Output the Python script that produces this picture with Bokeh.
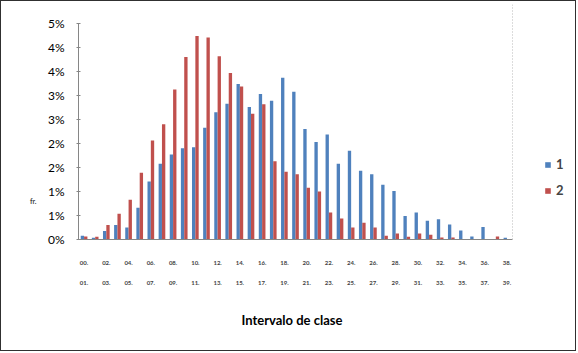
from bokeh.plotting import figure
from bokeh.models import (ColumnDataSource, Range1d, FixedTicker, LinearAxis, Legend,
                          LegendItem, Span, Title)
from bokeh.transform import dodge
from bokeh.embed import file_html
from bokeh.resources import INLINE

# ---- data (values in %) ----
serie_1 = [0.08, 0.035, 0.175, 0.30, 0.25, 0.66, 1.21, 1.58, 1.77, 1.90,
           1.92, 2.33, 2.65, 2.83, 3.24, 2.76, 3.03, 2.89, 3.37, 3.08,
           2.30, 2.03, 2.19, 1.58, 1.85, 1.43, 1.36, 1.14, 1.01, 0.49,
           0.56, 0.39, 0.42, 0.31, 0.19, 0.06, 0.26, 0.0, 0.035]
serie_2 = [0.06, 0.056, 0.30, 0.535, 0.83, 1.39, 2.06, 2.40, 3.125, 3.80,
           4.24, 4.21, 3.82, 3.47, 3.19, 2.62, 2.82, 1.63, 1.41, 1.36,
           1.08, 1.00, 0.56, 0.44, 0.25, 0.35, 0.25, 0.08, 0.125, 0.056,
           0.125, 0.10, 0.04, 0.04, 0.0, 0.0, 0.0, 0.06, 0.0]
idx = list(range(len(serie_1)))

# x tick labels (every other class, two lines each)
x_label_ticks = [0, 2, 4, 6, 8, 10, 12, 14, 16, 18, 20, 22, 24, 26, 28, 30, 32, 34, 36, 38]
x_labels_row1 = ["00.", "02.", "04.", "06.", "08.", "10.", "12.", "14.", "16.", "18.",
                 "20.", "22.", "24.", "26.", "28.", "30.", "32.", "34.", "36.", "38."]
x_labels_row2 = ["01.", "03.", "05.", "07.", "09.", "11.", "13.", "15.", "17.", "19.",
                 "21.", "23.", "25.", "27.", "29.", "31.", "33.", "35.", "37.", "39."]
x_title = "Intervalo de clase"

y_ticks = [0, 0.5, 1.0, 1.5, 2.0, 2.5, 3.0, 3.5, 4.0, 4.5]
y_tick_labels = ["0%", "1%", "1%", "2%", "2%", "3%", "3%", "4%", "4%", "5%"]
y_title = "fr."
y_title_pos = 0.81

series_names = ["1", "2"]
BLUE = "#4F81BD"
RED = "#C0504D"
FONT = "Lato"

src = ColumnDataSource(dict(idx=idx, s1=serie_1, s2=serie_2))

# frame extends to the right edge; plot area ends at class 38.5 (dotted line)
p = figure(width=576, height=351, output_backend="svg", toolbar_location=None,
           x_range=Range1d(-0.5, 44.34), y_range=Range1d(0, 4.896),
           min_border_left=77, min_border_right=0, min_border_top=3,
           min_border_bottom=113, title=None)
p.styles = {"border": "1px solid #303030"}
p.background_fill_color = "white"
p.border_fill_color = "white"
p.outline_line_color = None
p.xgrid.visible = False
p.ygrid.visible = False

r1 = p.vbar(x=dodge("idx", -0.15, range=p.x_range), top="s1", width=0.3, source=src,
            fill_color=BLUE, line_color=None)
r2 = p.vbar(x=dodge("idx", 0.15, range=p.x_range), top="s2", width=0.3, source=src,
            fill_color=RED, line_color=None)

# y axis
ya = p.yaxis[0]
ya.ticker = FixedTicker(ticks=y_ticks)
ya.major_label_overrides = {t: l for t, l in zip(y_ticks, y_tick_labels)}
ya.bounds = (0, 4.5)
ya.axis_line_color = "#868686"
ya.major_tick_line_color = "#868686"
ya.major_tick_out = 2
ya.major_tick_in = 2
ya.minor_tick_line_color = None
ya.major_label_text_font = FONT
ya.major_label_text_font_size = "12px"
ya.major_label_text_color = "black"
ya.major_label_standoff = 12

# small y title drawn as a second left axis label
yb = LinearAxis(ticker=FixedTicker(ticks=[y_title_pos]))
yb.major_label_overrides = {y_title_pos: y_title}
yb.axis_line_color = None
yb.major_tick_line_color = None
yb.minor_tick_line_color = None
yb.major_label_text_font = FONT
yb.major_label_text_font_size = "7px"
yb.major_label_text_font_style = "bold"
yb.major_label_standoff = 2
p.add_layout(yb, "left")

# x axis row 1
xa = p.xaxis[0]
xa.ticker = FixedTicker(ticks=x_label_ticks)
xa.bounds = (-0.5, 38.5)
xa.major_label_overrides = {t: l for t, l in zip(x_label_ticks, x_labels_row1)}
xa.axis_line_color = "#868686"
xa.major_tick_line_color = None
xa.minor_tick_line_color = None
xa.major_label_text_font = FONT
xa.major_label_text_font_size = "6px"
xa.major_label_text_font_style = "bold"
xa.major_label_standoff = 15

# x axis row 2
xb = LinearAxis(ticker=FixedTicker(ticks=x_label_ticks))
xb.major_label_overrides = {t: l for t, l in zip(x_label_ticks, x_labels_row2)}
xb.axis_line_color = None
xb.major_tick_line_color = None
xb.minor_tick_line_color = None
xb.major_label_text_font = FONT
xb.major_label_text_font_size = "6px"
xb.major_label_text_font_style = "bold"
xb.major_label_standoff = 7
p.add_layout(xb, "below")

# x axis title, centred under the plot area
p.add_layout(Title(text=x_title, align="left", offset=163, standoff=44,
                   text_font=FONT, text_font_size="13px", text_font_style="bold",
                   text_color="black"), "below")

# dotted right border of plot area
p.add_layout(Span(location=38.5, dimension="height", line_color="#b8b8b8",
                  line_dash="1 2", line_width=1))

legend = Legend(items=[LegendItem(label=series_names[0], renderers=[r1]),
                       LegendItem(label=series_names[1], renderers=[r2])],
                location=(466, 41), orientation="vertical")
legend.glyph_width = 7
legend.glyph_height = 7
legend.label_height = 14
legend.spacing = 10
legend.padding = 0
legend.margin = 0
legend.label_standoff = 5
legend.border_line_color = None
legend.background_fill_alpha = 0
legend.label_text_font = FONT
legend.label_text_font_size = "13px"
legend.label_text_font_style = "bold"
p.add_layout(legend)

open("out.html", "w").write(file_html(p, INLINE))
